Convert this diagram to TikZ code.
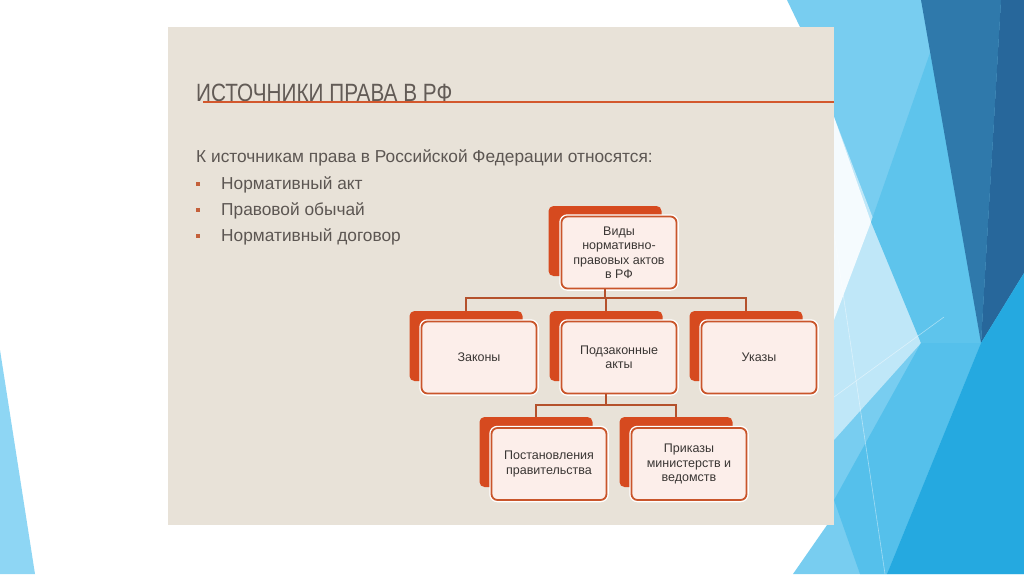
\documentclass[tikz,border=0pt]{standalone}
\usepackage{fontspec}
\setmainfont{Liberation Sans}
\usepackage{graphicx}
\definecolor{panel}{HTML}{E8E2D8}
\definecolor{titlegray}{HTML}{625B56}
\definecolor{bodygray}{HTML}{5C5652}
\definecolor{accent}{HTML}{D3582D}
\definecolor{bulletc}{HTML}{C4603A}
\definecolor{boxred}{HTML}{D64A1F}
\definecolor{boxline}{HTML}{C9552B}
\definecolor{boxfill}{HTML}{FCEEEA}
\definecolor{boxtext}{HTML}{3A3634}
\definecolor{connc}{HTML}{B4512C}
\definecolor{bgA}{HTML}{78CDF0}
\definecolor{bgP}{HTML}{BFE7F8}
\definecolor{bgW}{HTML}{F5FBFE}
\definecolor{bgM}{HTML}{5EC4EC}
\definecolor{bgD}{HTML}{2F79AB}
\definecolor{bgDD}{HTML}{27679B}
\definecolor{bgB}{HTML}{25A9E0}
\definecolor{bgS}{HTML}{55C0EB}
\definecolor{bgL}{HTML}{8ED6F4}
\tikzset{
  backbox/.style={fill=boxred, rounded corners=5pt, minimum width=113pt, minimum height=70pt, inner sep=0pt},
  frontbox/.style={fill=boxfill, draw=boxline, line width=1.8pt, rounded corners=6pt,
    minimum width=115pt, minimum height=72pt, inner sep=2pt, align=center, text=boxtext,
    font=\fontsize{12.5}{14.5}\selectfont, preaction={draw=white, line width=4.5pt}},
  conn/.style={draw=connc, line width=1.5pt},
  bulletbox/.style={fill=bulletc, minimum size=3.5pt, inner sep=0pt},
  bodytext/.style={anchor=base west, inner sep=0pt, text=bodygray, font=\fontsize{17.3}{20}\selectfont},
}
\begin{document}
\begin{tikzpicture}[x=1pt,y=-1pt]
\useasboundingbox (0,0) rectangle (1024,574);
\fill[white] (0,0) rectangle (1024,574);
% background facets
\fill[bgA] (787,0) -- (1024,0) -- (1024,574) -- (793,574) -- (834,515) -- (834,27) -- (800,27) -- cycle;
\fill[bgP] (834,117) -- (921,343) -- (834,440) -- cycle;
\fill[bgW] (834,117) -- (871,222) -- (834,320) -- cycle;
\fill[bgM] (931,50) -- (981,343) -- (921,343) -- (871,222) -- cycle;
\fill[bgS] (921,343) -- (981,343) -- (887,574) -- (860,574) -- (834,500) -- cycle;
\fill[bgD] (921,0) -- (1001,0) -- (981,343) -- cycle;
\fill[bgDD] (1001,0) -- (1024,0) -- (1024,273) -- (981,343) -- cycle;
\fill[bgB] (981,343) -- (1024,273) -- (1024,574) -- (887,574) -- cycle;
\draw[white, opacity=0.45, line width=0.6pt] (834,233) -- (885,574);
\draw[white, opacity=0.45, line width=0.6pt] (834,397) -- (944,317);
\fill[bgL] (0,350) -- (35,574) -- (0,574) -- cycle;
% panel
\fill[panel] (168,27) rectangle (834,525);
% title
\node[anchor=base west, inner sep=0pt, text=titlegray] (title) at (196,101)
  {\fontsize{25}{25}\selectfont\scalebox{0.83}[1]{ИСТОЧНИКИ ПРАВА В РФ}};
\coordinate (lineL) at (203,102);
\coordinate (lineR) at (834,102);
\draw[accent, line width=2.2pt] (lineL) -- (lineR);
% body text
\node[bodytext] (intro) at (196,162) {К источникам права в Российской Федерации относятся:};
\node[bulletbox] (b1) at (198,184) {};
\node[bulletbox] (b2) at (198,210) {};
\node[bulletbox] (b3) at (198,236) {};
\node[bodytext] (t1) at (221,189) {Нормативный акт};
\node[bodytext] (t2) at (221,215) {Правовой обычай};
\node[bodytext] (t3) at (221,241) {Нормативный договор};
% bus coordinates
\coordinate (bus1) at (0,298);
\coordinate (bus2) at (0,405);
% back boxes
\node[backbox] (topb) at (605,241) {};
\node[backbox] (zakb) at (466,346) {};
\node[backbox] (podzb) at (606,346) {};
\node[backbox] (ukb) at (746,346) {};
\node[backbox] (postb) at (536,452) {};
\node[backbox] (prikb) at (676,452) {};
% front boxes
\node[frontbox] (top) at (619,252.5) {Виды\\нормативно-\\правовых актов\\в РФ};
\node[frontbox] (zak) at (479,357.5) {Законы};
\node[frontbox] (podz) at (619,357.5) {Подзаконные\\акты};
\node[frontbox] (uk) at (759,357.5) {Указы};
\node[frontbox] (post) at (549,464) {Постановления\\правительства};
\node[frontbox] (prik) at (689,464) {Приказы\\министерств и\\ведомств};
% connectors
\draw[conn] (topb.center |- top.south) -- (topb.center |- bus1);
\draw[conn] (zakb.north) -- (zakb.north |- bus1) -- (ukb.north |- bus1) -- (ukb.north);
\draw[conn] (podzb.north) -- (podzb.north |- bus1);
\draw[conn] (podzb.center |- podz.south) -- (podzb.center |- bus2);
\draw[conn] (postb.north) -- (postb.north |- bus2) -- (prikb.north |- bus2) -- (prikb.north);
\end{tikzpicture}
\end{document}
